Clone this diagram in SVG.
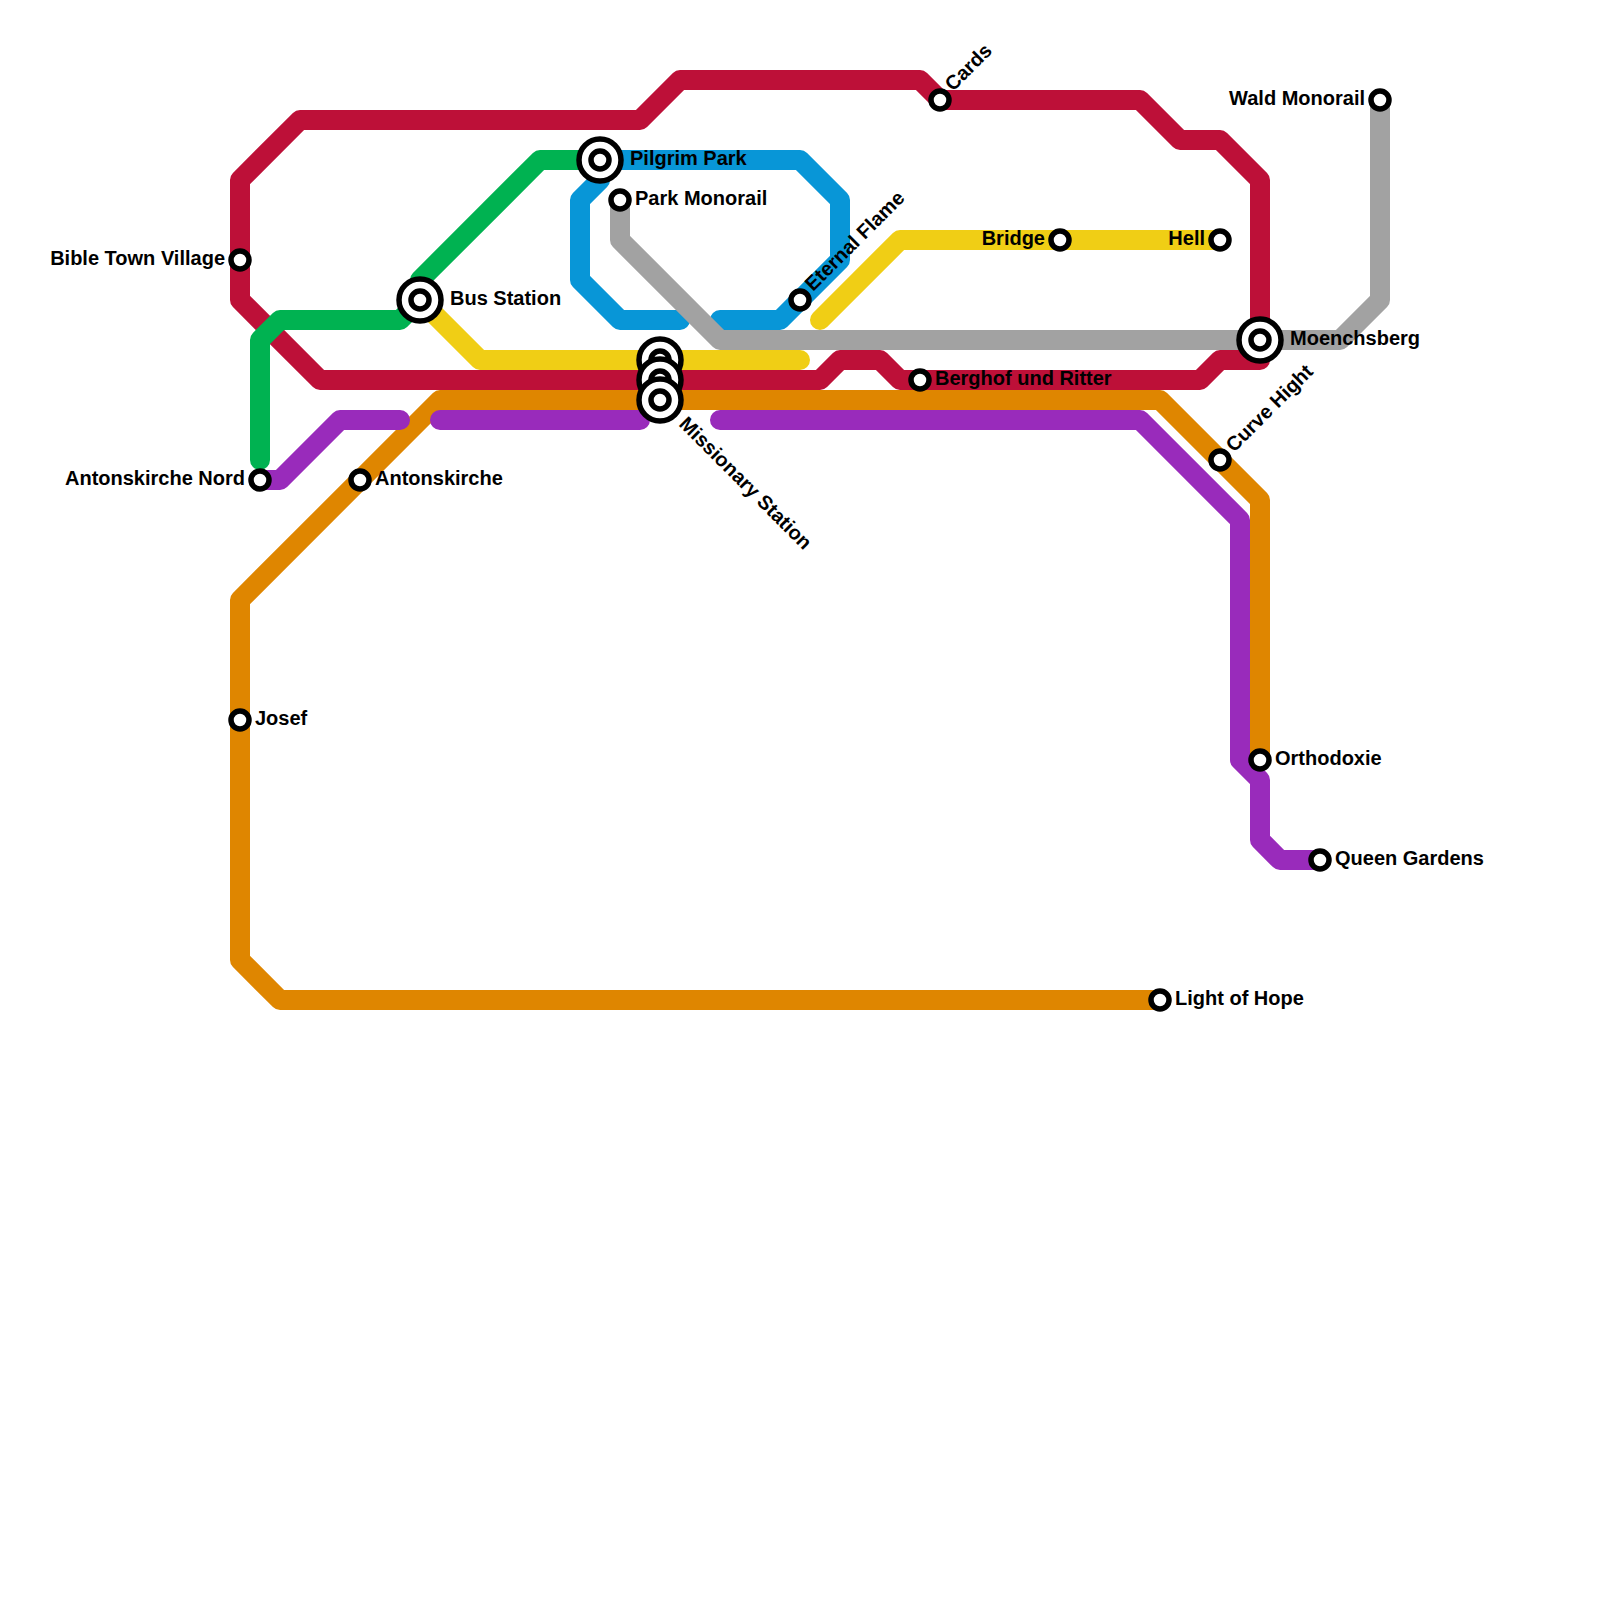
<svg xmlns="http://www.w3.org/2000/svg" width="1600" height="1600" viewBox="0 0 1600 1600">
<style>
.l{fill:none;stroke-width:20;stroke-linecap:round;stroke-linejoin:round}
.s{fill:#fff;stroke:#000;stroke-width:5.5}
.b{fill:#fff;stroke:#000;stroke-width:5.5}
text{font-family:"Liberation Sans",Arial,sans-serif;font-weight:700;font-size:20px;fill:#000}
.e{text-anchor:end}
</style>
<rect width="1600" height="1600" fill="#fff"/>
<g id="connectors">
<path class="l" stroke="#bd1038" d="M240 180L300 120H640L680 80H920L940 100H1140L1180 140H1220L1260 180V360H1220L1200 380H900L880 360H840L820 380H320L240 300Z"/>
<path class="l" stroke="#00b251" d="M600 160H540L420 280M420 300L400 320H280L260 340V460"/>
<path class="l" stroke="#f0ce15" d="M420 300L480 360H800M820 320L900 240H1220"/>
<path class="l" stroke="#0896d7" d="M600 160H800L840 200V260L780 320H720M680 320H620L580 280V200L600 180"/>
<path class="l" stroke="#a2a2a2" d="M620 200V240L720 340H1340L1380 300V100"/>
<path class="l" stroke="#df8600" d="M1160 1000H280L240 960V600L440 400H1160L1260 500V760"/>
<path class="l" stroke="#992bbb" d="M260 480H280L340 420H400M440 420H640M720 420H1140L1240 520V760L1260 780V840L1280 860H1320"/>
</g>
<g id="bible-town-village"><circle class="s" cx="240" cy="260" r="9"/><text class="e" x="225" y="265">Bible Town Village</text></g>
<g id="josef"><circle class="s" cx="240" cy="720" r="9"/><text x="255" y="725">Josef</text></g>
<g id="antonskirche-nord"><circle class="s" cx="260" cy="480" r="9"/><text class="e" x="245" y="485">Antonskirche Nord</text></g>
<g id="antonskirche"><circle class="s" cx="360" cy="480" r="9"/><text x="375" y="485">Antonskirche</text></g>
<g id="bus-station"><circle class="b" cx="420" cy="300" r="21"/><circle class="s" cx="420" cy="300" r="9"/><text x="450" y="305">Bus Station</text></g>
<g id="pilgrim-park"><circle class="b" cx="600" cy="160" r="21"/><circle class="s" cx="600" cy="160" r="9"/><text x="630" y="165">Pilgrim Park</text></g>
<g id="park-monorail"><circle class="s" cx="620" cy="200" r="9"/><text x="635" y="205">Park Monorail</text></g>
<g id="station-360"><circle class="b" cx="660" cy="360" r="21"/><circle class="s" cx="660" cy="360" r="9"/></g>
<g id="station-380"><circle class="b" cx="660" cy="380" r="21"/><circle class="s" cx="660" cy="380" r="9"/></g>
<g id="missionary-station"><circle class="b" cx="660" cy="400" r="21"/><circle class="s" cx="660" cy="400" r="9"/><text transform="translate(678 425) rotate(45)">Missionary Station</text></g>
<g id="eternal-flame"><circle class="s" cx="800" cy="300" r="9"/><text transform="translate(813 292) rotate(-45)">Eternal Flame</text></g>
<g id="cards"><circle class="s" cx="940" cy="100" r="9"/><text transform="translate(953 92) rotate(-45)">Cards</text></g>
<g id="berghof-und-ritter"><circle class="s" cx="920" cy="380" r="9"/><text x="935" y="385">Berghof und Ritter</text></g>
<g id="bridge"><circle class="s" cx="1060" cy="240" r="9"/><text class="e" x="1045" y="245">Bridge</text></g>
<g id="hell"><circle class="s" cx="1220" cy="240" r="9"/><text class="e" x="1205" y="245">Hell</text></g>
<g id="wald-monorail"><circle class="s" cx="1380" cy="100" r="9"/><text class="e" x="1365" y="105">Wald Monorail</text></g>
<g id="moenchsberg"><circle class="b" cx="1260" cy="340" r="21"/><circle class="s" cx="1260" cy="340" r="9"/><text x="1290" y="345">Moenchsberg</text></g>
<g id="curve-hight"><circle class="s" cx="1220" cy="460" r="9"/><text transform="translate(1234 453) rotate(-45)">Curve Hight</text></g>
<g id="orthodoxie"><circle class="s" cx="1260" cy="760" r="9"/><text x="1275" y="765">Orthodoxie</text></g>
<g id="queen-gardens"><circle class="s" cx="1320" cy="860" r="9"/><text x="1335" y="865">Queen Gardens</text></g>
<g id="light-of-hope"><circle class="s" cx="1160" cy="1000" r="9"/><text x="1175" y="1005">Light of Hope</text></g>
</svg>
